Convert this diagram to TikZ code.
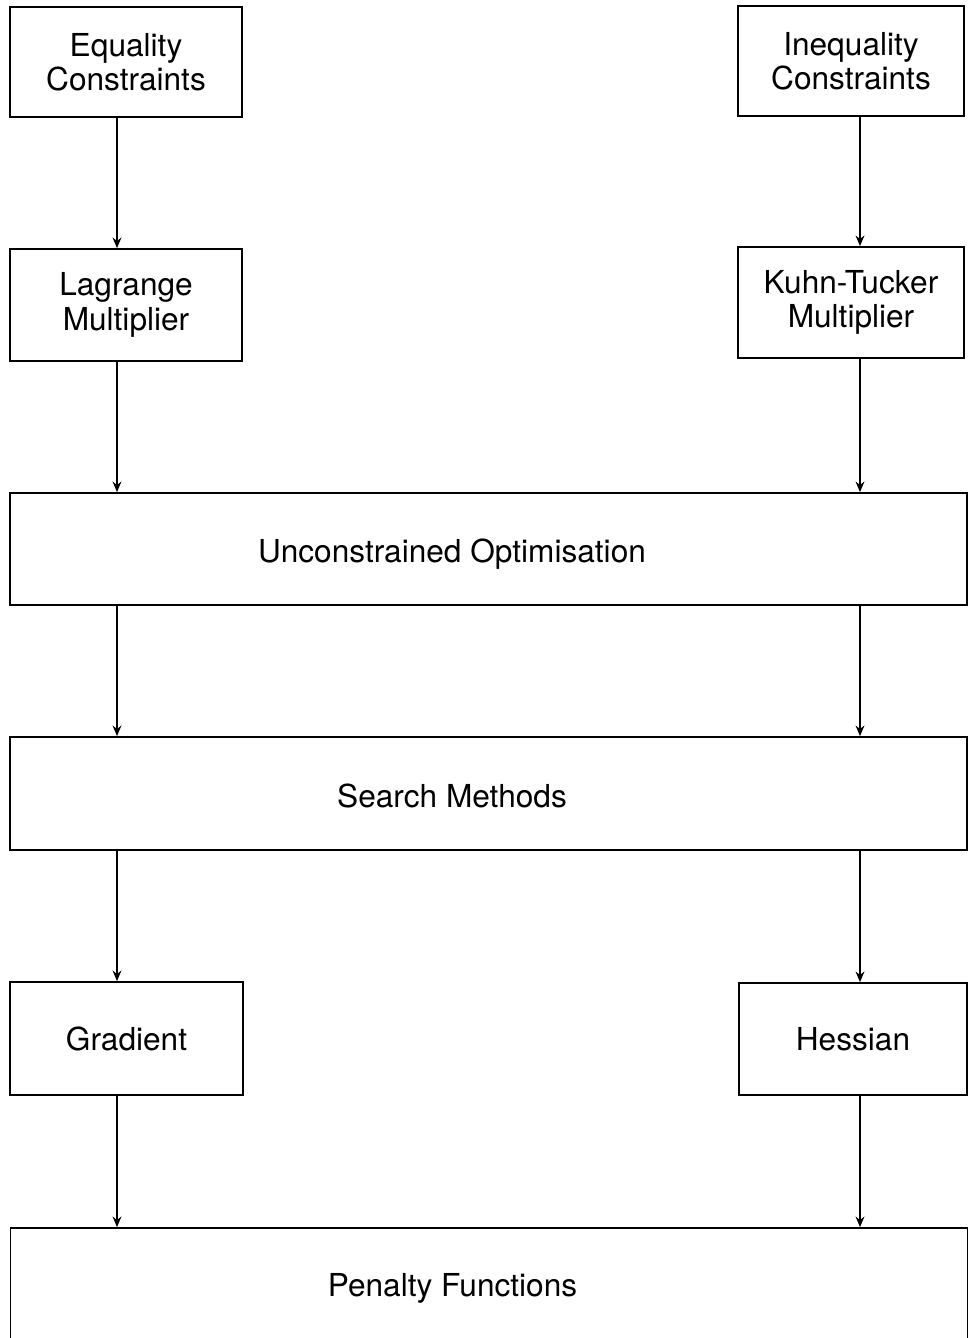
\documentclass[tikz,border=0pt]{standalone}
\usepackage{fontspec}
\setmainfont{TeX Gyre Heros}
\usetikzlibrary{arrows.meta}
\begin{document}
\begin{tikzpicture}[x=0.02cm,y=-0.02cm,
  box/.style={draw,line width=1pt,rectangle,inner sep=0pt,align=center,
    font=\fontsize{18}{19.5}\selectfont},
  wtext/.style={font=\fontsize{18}{19.5}\selectfont},
  arr/.style={line width=1pt,-{Stealth[length=6pt,width=5pt]}}]
\useasboundingbox (0,0) rectangle (969,1338);
\node[box,minimum width=4.64cm,minimum height=2.2cm] (eq) at (126,62) {Equality\\Constraints};
\node[box,minimum width=4.52cm,minimum height=2.2cm] (ineq) at (851,61) {Inequality\\Constraints};
\node[box,minimum width=4.64cm,minimum height=2.24cm] (lag) at (126,305) {Lagrange\\Multiplier};
\node[box,minimum width=4.52cm,minimum height=2.22cm] (kt) at (851,302.5) {Kuhn-Tucker\\Multiplier};
\node[box,minimum width=19.14cm,minimum height=2.24cm,
  label={[wtext,xshift=-0.73cm,yshift=-0.1cm]center:Unconstrained Optimisation}] (unc) at (488.5,549) {};
\node[box,minimum width=19.14cm,minimum height=2.26cm,
  label={[wtext,xshift=-0.73cm,yshift=-0.04cm]center:Search Methods}] (search) at (488.5,793.5) {};
\node[box,minimum width=4.66cm,minimum height=2.26cm] (grad) at (126.5,1038.5) {Gradient};
\node[box,minimum width=4.56cm,minimum height=2.24cm] (hess) at (853,1039) {Hessian};
\node[box,minimum width=19.14cm,minimum height=2.34cm,
  label={[wtext,xshift=-0.73cm,yshift=-0.04cm]center:Penalty Functions}] (pen) at (489,1286.5) {};
\coordinate (xl) at (117,0);
\coordinate (xr) at (860,0);
\draw[arr] (eq.south -| xl) -- (lag.north -| xl);
\draw[arr] (ineq.south -| xr) -- (kt.north -| xr);
\draw[arr] (lag.south -| xl) -- (unc.north -| xl);
\draw[arr] (kt.south -| xr) -- (unc.north -| xr);
\draw[arr] (unc.south -| xl) -- (search.north -| xl);
\draw[arr] (unc.south -| xr) -- (search.north -| xr);
\draw[arr] (search.south -| xl) -- (grad.north -| xl);
\draw[arr] (search.south -| xr) -- (hess.north -| xr);
\draw[arr] (grad.south -| xl) -- (pen.north -| xl);
\draw[arr] (hess.south -| xr) -- (pen.north -| xr);
\end{tikzpicture}
\end{document}
